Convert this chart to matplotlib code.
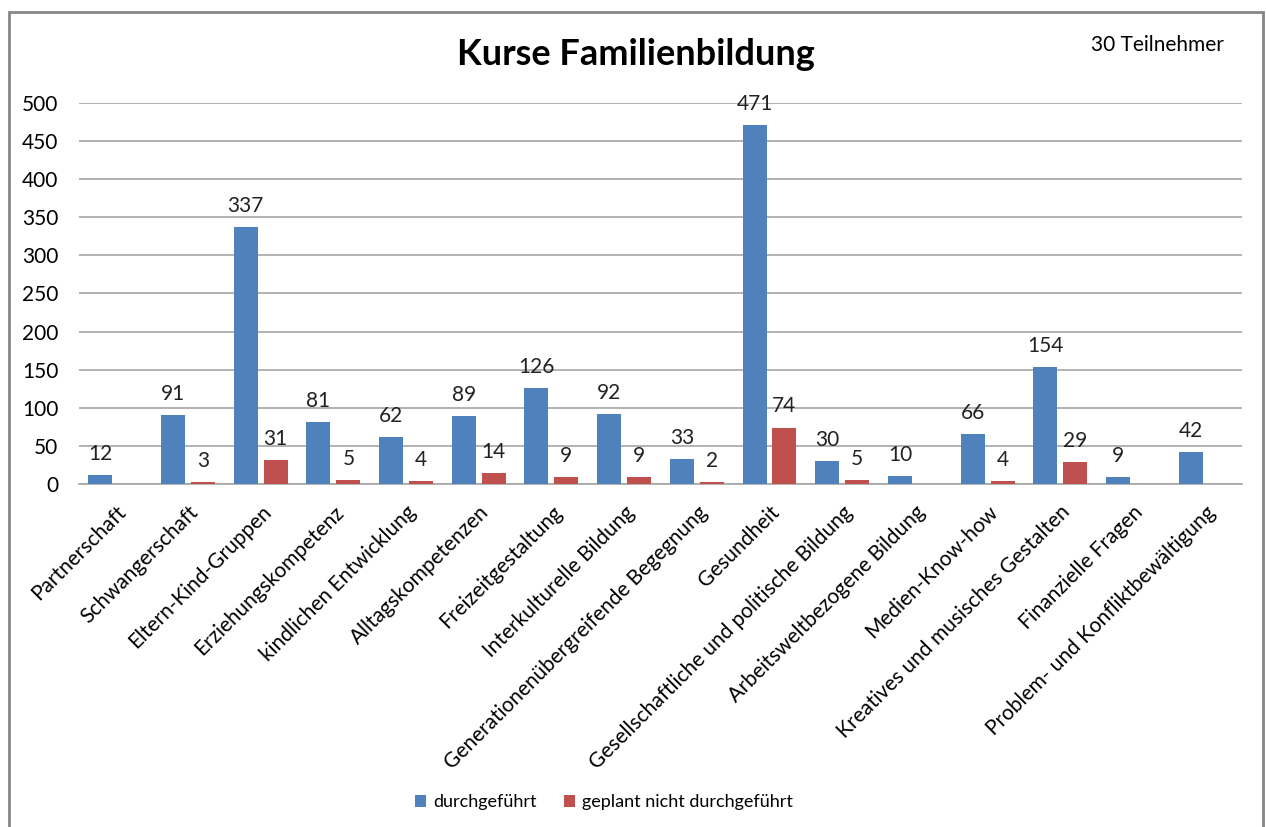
import numpy as np
import matplotlib.pyplot as plt
from matplotlib.patches import Rectangle

# --- data ---
categories = [
    'Partnerschaft', 'Schwangerschaft', 'Eltern-Kind-Gruppen', 'Erziehungskompetenz',
    'kindlichen Entwicklung', 'Alltagskompetenzen', 'Freizeitgestaltung',
    'Interkulturelle Bildung', 'Generationenübergreifende Begegnung', 'Gesundheit',
    'Gesellschaftliche und politische Bildung', 'Arbeitsweltbezogene Bildung',
    'Medien-Know-how', 'Kreatives und musisches Gestalten', 'Finanzielle Fragen',
    'Problem- und Konfliktbewältigung',
]
durchgefuehrt = [12, 91, 337, 81, 62, 89, 126, 92, 33, 471, 30, 10, 66, 154, 9, 42]
# None = no bar / no label in the original
nicht_durchgefuehrt = [None, 3, 31, 5, 4, 14, 9, 9, 2, 74, 5, None, 4, 29, None, None]
y_ticks = [0, 50, 100, 150, 200, 250, 300, 350, 400, 450, 500]

plt.rcParams['font.family'] = ['Lato', 'DejaVu Sans']

fig = plt.figure(figsize=(12.66, 8.27), dpi=100)
ax = fig.add_axes([0.0624, 0.4148, 0.9186, 0.4607])

x = np.arange(len(categories))
w = 0.33
off = 0.206

blue = ax.bar(x - off, durchgefuehrt, w, color='#4F81BD', label='durchgeführt', zorder=3)

red_x = [xi + off for xi, v in zip(x, nicht_durchgefuehrt) if v is not None]
red_v = [v for v in nicht_durchgefuehrt if v is not None]
red = ax.bar(red_x, red_v, w, color='#C0504D', label='geplant nicht durchgeführt', zorder=3)

ax.bar_label(blue, padding=8, fontsize=15, color='#222222')
ax.bar_label(red, padding=8, fontsize=15, color='#222222')

ax.set_xlim(-0.5, len(categories) - 0.5)
ax.set_ylim(0, 500)
ax.set_yticks(y_ticks)
ax.tick_params(axis='y', length=0, labelsize=15, pad=15)
ax.tick_params(axis='x', length=0, pad=13)
ax.set_xticks(x)
ax.set_xticklabels(categories, rotation=45, ha='right', rotation_mode='anchor', fontsize=15)
ax.grid(axis='y', color='#A6A6A6', linewidth=1.2, zorder=0)

for s in ['left', 'right', 'top']:
    ax.spines[s].set_visible(False)
ax.spines['bottom'].set_color('#A6A6A6')
ax.spines['bottom'].set_linewidth(1.2)

fig.text(0.502, 0.934, 'Kurse Familienbildung', ha='center', va='center',
         fontsize=26, fontweight='bold')
fig.text(0.967, 0.946, '30 Teilnehmer', ha='right', va='center', fontsize=15)

fig.legend(handles=[blue, red], loc='center', bbox_to_anchor=(0.477, 0.030),
           ncol=2, frameon=False, fontsize=13, handlelength=0.6, handleheight=0.6,
           columnspacing=1.5, handletextpad=0.4)

# grey chart frame like the spreadsheet chart area
fig.patches.append(Rectangle((9 / 1266, -0.01), 1254 / 1266, 1 - 12 / 827 + 0.01,
                             transform=fig.transFigure, fill=False,
                             edgecolor='#868686', linewidth=2))

fig.savefig('out.png', dpi=100)
